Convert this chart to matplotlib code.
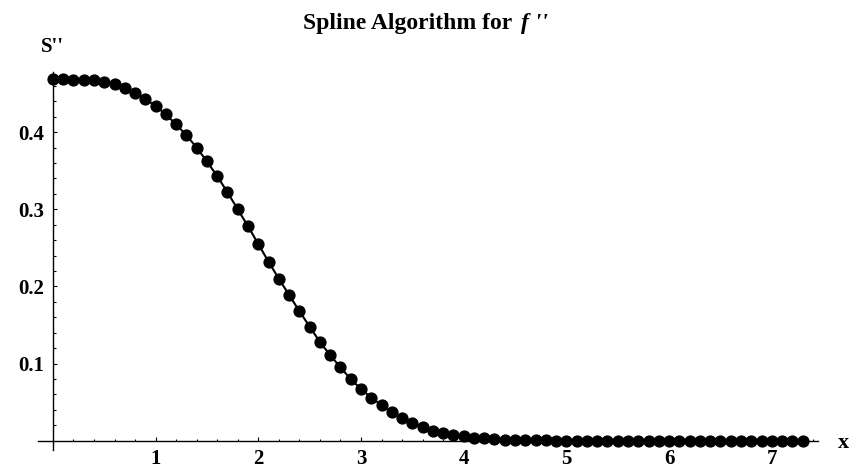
import numpy as np
import matplotlib as mpl; mpl.use("Agg")
import matplotlib.pyplot as plt
from matplotlib.ticker import FixedLocator

plt.rcParams.update({"font.family": "serif",
                     "font.serif": ["Liberation Serif", "DejaVu Serif"],
                     "font.weight": "bold"})

xs = [0.0, 0.1, 0.2, 0.3, 0.4, 0.5, 0.6, 0.7, 0.8, 0.9,
      1.0, 1.1, 1.2, 1.3, 1.4, 1.5, 1.6, 1.7, 1.8, 1.9,
      2.0, 2.1, 2.2, 2.3, 2.4, 2.5, 2.6, 2.7, 2.8, 2.9,
      3.0, 3.1, 3.2, 3.3, 3.4, 3.5, 3.6, 3.7, 3.8, 3.9,
      4.0, 4.1, 4.2, 4.3, 4.4, 4.5, 4.6, 4.7, 4.8, 4.9,
      5.0, 5.1, 5.2, 5.3, 5.4, 5.5, 5.6, 5.7, 5.8, 5.9,
      6.0, 6.1, 6.2, 6.3, 6.4, 6.5, 6.6, 6.7, 6.8, 6.9,
      7.0, 7.1, 7.2, 7.3]
s2 = [0.469, 0.469, 0.468, 0.468, 0.467, 0.465, 0.462, 0.457, 0.451, 0.443,
      0.434, 0.423, 0.410, 0.396, 0.380, 0.362, 0.343, 0.322, 0.300, 0.278,
      0.255, 0.232, 0.210, 0.189, 0.168, 0.148, 0.128, 0.111, 0.095, 0.080,
      0.067, 0.056, 0.046, 0.037, 0.029, 0.023, 0.018, 0.013, 0.010, 0.0075,
      0.0056, 0.0042, 0.0030, 0.0022, 0.0016, 0.0011, 0.0008, 0.0006, 0.0004, 0.0003,
      0.0002, 0.0001, 0.0001, 0.0, 0.0, 0.0, 0.0, 0.0, 0.0, 0.0,
      0.0, 0.0, 0.0, 0.0, 0.0, 0.0, 0.0, 0.0, 0.0, 0.0,
      0.0, 0.0, 0.0, 0.0]
xticks = [1, 2, 3, 4, 5, 6, 7]
yticks = [0.1, 0.2, 0.3, 0.4]

W, H = 851, 469
fig = plt.figure(figsize=(W/100, H/100), dpi=100)
ax = fig.add_axes([38/W, 19/H, 780/W, 378/H])
ax.plot(xs, s2, "-", c="k", lw=1.5, zorder=2)
ax.plot(xs, s2, "o", c="k", ms=7.8, zorder=3)
ax.set_xlim(-0.145, 7.45); ax.set_ylim(-0.012, 0.478)

for s in ["top", "right"]:
    ax.spines[s].set_visible(False)
ax.spines["left"].set_position(("data", 0)); ax.spines["bottom"].set_position(("data", 0))
ax.spines["left"].set_linewidth(1.0); ax.spines["bottom"].set_linewidth(1.0)

ax.set_xticks(xticks); ax.set_xticklabels([str(t) for t in xticks])
ax.set_yticks(yticks); ax.set_yticklabels([f"{t:.1f}" for t in yticks])
ax.xaxis.set_minor_locator(FixedLocator(np.arange(0.2, 7.41, 0.2)))
ax.yaxis.set_minor_locator(FixedLocator(np.arange(0.02, 0.47, 0.02)))
ax.tick_params(which="both", direction="in", width=0.8, labelsize=15)
ax.tick_params(which="major", length=3.2)
ax.tick_params(which="minor", length=1.8)
ax.tick_params(axis="x", pad=6)
ax.tick_params(axis="y", pad=6)
for lb in ax.get_xticklabels() + ax.get_yticklabels():
    lb.set_fontweight("bold")

fig.text(52/W, 1-47/H, "S''", ha="center", va="center", fontsize=15, fontweight="bold")
fig.text(843/W, 1-443/H, "x", ha="center", va="center", fontsize=16, fontweight="bold")
fig.text(512/W, 1-24/H, "Spline Algorithm for", ha="right", va="center", fontsize=17, fontweight="bold")
fig.text(521/W, 1-24/H, "f ''", ha="left", va="center", fontsize=17, fontweight="bold", style="italic")

fig.savefig("out.png", dpi=100)
